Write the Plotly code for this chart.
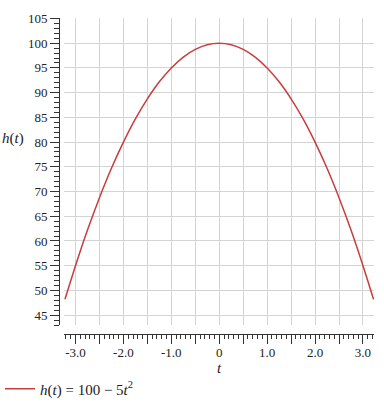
import plotly.graph_objects as go

# Data
t_vals = [-3.22, -3.0, -2.75, -2.5, -2.25, -2.0, -1.75, -1.5, -1.25, -1.0, -0.75, -0.5, -0.25, 0.0,
          0.25, 0.5, 0.75, 1.0, 1.25, 1.5, 1.75, 2.0, 2.25, 2.5, 2.75, 3.0, 3.22]
h_vals = [48.2, 55.0, 62.2, 68.75, 74.7, 80.0, 84.7, 88.75, 92.2, 95.0, 97.2, 98.75, 99.7, 100.0,
          99.7, 98.75, 97.2, 95.0, 92.2, 88.75, 84.7, 80.0, 74.7, 68.75, 62.2, 55.0, 48.2]

x_tickvals = [-3.0, -2.0, -1.0, 0.0, 1.0, 2.0, 3.0]
x_ticktext = ["-3.0", "-2.0", "-1.0", "0", "1.0", "2.0", "3.0"]
y_tickvals = [45, 50, 55, 60, 65, 70, 75, 80, 85, 90, 95, 100, 105]
y_ticktext = [str(v) for v in y_tickvals]

FONT = "Liberation Serif"
RED = "#c83c3c"
GRID = "#d4d4d4"
AX = "#333333"
XRANGE = [-3.24, 3.23]
XPOS = 75/409

fig = go.Figure()
fig.add_trace(go.Scatter(
    x=t_vals, y=h_vals, mode="lines",
    line=dict(color=RED, width=1.5, shape="spline"),
    name="<i>h</i>(<i>t</i>) = 100 \u2212 5<i>t</i><sup>2</sup>",
    showlegend=True,
))
# invisible helper trace so the fine-tick x axis is drawn
fig.add_trace(go.Scatter(x=[t_vals[0]], y=[h_vals[0]], xaxis="x2", mode="markers",
                         marker=dict(opacity=0), showlegend=False, hoverinfo="skip"))

fig.update_layout(
    width=384, height=409,
    margin=dict(l=0, r=0, t=0, b=0, autoexpand=False),
    paper_bgcolor="white", plot_bgcolor="white",
    font=dict(family=FONT, size=13, color="#222222"),
    showlegend=True,
    legend=dict(x=0.0, y=0.049, xanchor="left", yanchor="middle",
                font=dict(family=FONT, size=15, color="#222222"),
                bgcolor="rgba(0,0,0,0)"),
    xaxis=dict(
        domain=[64/384, 374/384], range=XRANGE,
        anchor="free", position=XPOS, automargin=False,
        tickmode="array", tickvals=x_tickvals, ticktext=x_ticktext,
        ticks="outside", ticklen=9, tickcolor=AX, tickwidth=1,
        ticklabelstandoff=-3,
        showline=True, linecolor=AX, linewidth=1,
        showgrid=True, gridcolor=GRID, gridwidth=1,
        zeroline=False,
        minor=dict(dtick=0.5, tick0=0, ticks="outside", ticklen=9, tickcolor=AX,
                   showgrid=True, gridcolor=GRID, gridwidth=1),
        tickfont=dict(family=FONT, size=13),
    ),
    xaxis2=dict(
        domain=[64/384, 374/384], range=XRANGE, overlaying="x",
        anchor="free", position=XPOS, automargin=False,
        tickmode="linear", tick0=0, dtick=0.1,
        ticks="outside", ticklen=4, tickcolor=AX, tickwidth=1,
        showticklabels=False, showline=False, showgrid=False, zeroline=False,
    ),
    yaxis=dict(
        domain=[84/409, 391/409], range=[43.0, 105.1],
        anchor="free", position=59/384, automargin=False,
        tickmode="array", tickvals=y_tickvals, ticktext=y_ticktext,
        ticks="outside", ticklen=9, tickcolor=AX, tickwidth=1,
        showline=True, linecolor=AX, linewidth=1,
        showgrid=True, gridcolor=GRID, gridwidth=1,
        zeroline=False,
        minor=dict(dtick=1, tick0=0, ticks="outside", ticklen=5, tickcolor=AX, showgrid=False),
        tickfont=dict(family=FONT, size=13),
    ),
    annotations=[
        dict(text="<i>h</i>(<i>t</i>)", x=13/384, y=(409-138)/409, xref="paper", yref="paper",
             showarrow=False, xanchor="center", yanchor="middle",
             font=dict(family=FONT, size=15, color="#222222")),
        dict(text="<i>t</i>", x=219/384, y=(409-368)/409, xref="paper", yref="paper",
             showarrow=False, xanchor="center", yanchor="middle",
             font=dict(family=FONT, size=15, color="#222222")),
    ],
)

fig.write_html("out.html", config={"displayModeBar": False},
               post_script="document.body.style.margin='0';document.body.style.overflow='hidden';")
